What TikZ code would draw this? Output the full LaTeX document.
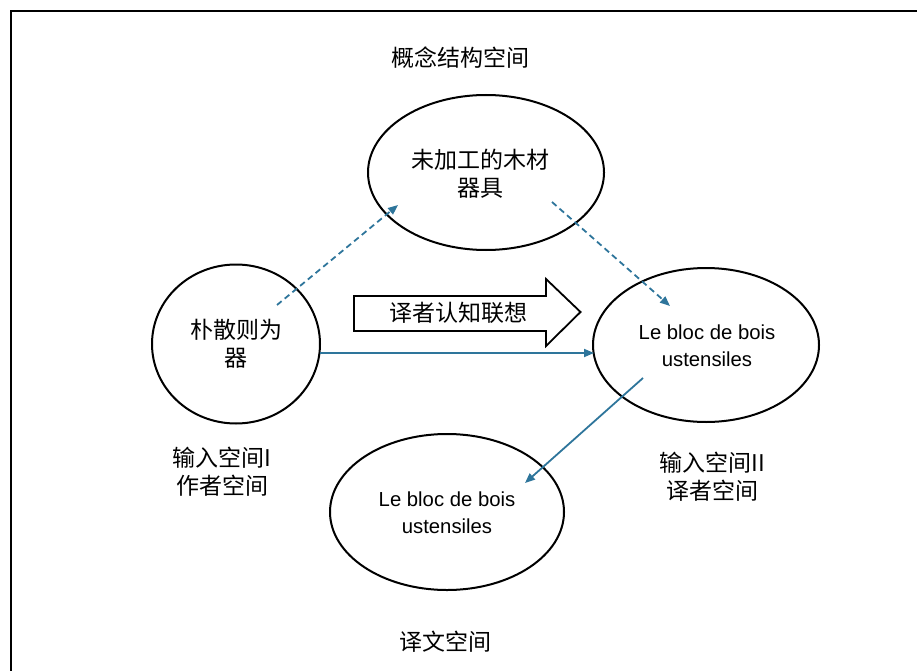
\documentclass[tikz,border=0pt]{standalone}
\usepackage{fontspec}
\setmainfont{Liberation Sans}
\newfontfamily\cjk{Noto Sans CJK SC}
\usetikzlibrary{arrows.meta,shapes.geometric}
\definecolor{arrowblue}{RGB}{46,117,155}
\tikzset{
  bubble/.style={draw=black, line width=2pt, ellipse, inner sep=0pt},
  zhtext/.style={font=\cjk\fontsize{23}{28}\selectfont, align=center, inner sep=0pt},
  latext/.style={font=\fontsize{20.3}{27}\selectfont, align=center, inner sep=0pt},
  link/.style={draw=arrowblue, line width=1.8pt, -{Triangle[length=10pt,width=8pt]}},
  dashlink/.style={link, dash pattern=on 6pt off 4pt},
}
\begin{document}
\begin{tikzpicture}[x=1pt,y=-1pt]
\useasboundingbox (0,0) rectangle (917,671);
% frame
\draw[line width=2pt, line cap=rect] (10.5,671) -- (10.5,11) -- (917,11);
% ellipses
\node[bubble, minimum width=236pt, minimum height=155pt] (top) at (486,172.5) {};
\node[bubble, minimum width=168pt, minimum height=159pt] (left) at (236,344) {};
\node[bubble, minimum width=226pt, minimum height=154pt] (right) at (706,345) {};
\node[bubble, minimum width=234pt, minimum height=156pt] (bottom) at (447,512) {};
% texts in ellipses
\node[zhtext] (toptxt) at (480,174) {未加工的木材\\器具};
\node[zhtext] (lefttxt) at (236,344) {朴散则为\\器};
\node[latext] (righttxt) at (707,346) {Le bloc de bois\\ustensiles};
\node[latext] (bottomtxt) at (447,513) {Le bloc de bois\\ustensiles};
% labels
\node[zhtext] (conc) at (460,58) {概念结构空间};
\node[zhtext] (in1) at (222,472) {输入空间I\\作者空间};
\node[zhtext] (in2) at (712,477) {输入空间II\\译者空间};
\node[zhtext] (out) at (445,642) {译文空间};
% block arrow
\draw[line width=1.8pt, line join=miter] (354,296) -- (546,296) -- (546,279) -- (580.5,312) -- (546,346) -- (546,331) -- (354,331) -- cycle;
\node[zhtext] (assoc) at (458,313) {译者认知联想};
% connectors
\coordinate (a1) at (277,305);
\coordinate (a2) at (398,205);
\coordinate (b1) at (552,202);
\coordinate (b2) at (670,306);
\coordinate (c1) at (320,353);
\coordinate (c2) at (594,353);
\coordinate (d1) at (643,378);
\coordinate (d2) at (525,483);
\draw[dashlink] (a1) -- (a2);
\draw[dashlink] (b1) -- (b2);
\draw[link] (c1) -- (c2);
\draw[link] (d1) -- (d2);
\end{tikzpicture}
\end{document}
